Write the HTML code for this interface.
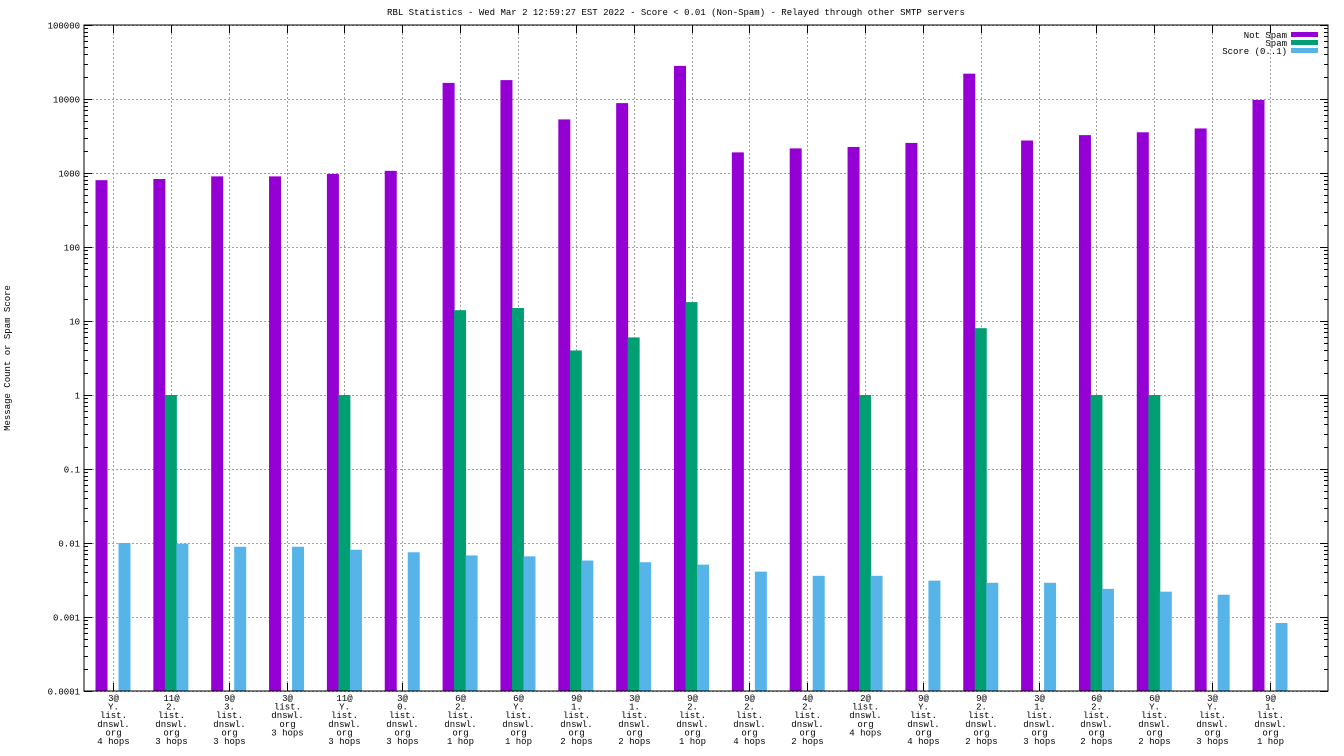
<!DOCTYPE html>
<html><head><meta charset="utf-8"><style>
body{margin:0;background:#fff}
svg{display:block;font-family:"Liberation Mono","DejaVu Sans Mono",monospace;font-size:9px}
</style></head><body>
<svg id="c" width="1344" height="756">
<text x="676" y="15" text-anchor="middle">RBL Statistics - Wed Mar  2 12:59:27 EST 2022 - Score &lt; 0.01 (Non-Spam) - Relayed through other SMTP servers</text>
<text transform="translate(10,358) rotate(-90)" text-anchor="middle">Message Count or Spam Score</text>
<g id="grid"></g><g id="bars"></g><g id="labels"></g>
<rect x="84" y="25" width="1244" height="666" fill="none" stroke="#000" stroke-width="1"/>
<g>
<text x="1287" y="38" text-anchor="end">Not Spam</text>
<rect x="1291" y="32" width="27" height="5" fill="#9400d3"/>
<text x="1287" y="46" text-anchor="end">Spam</text>
<rect x="1291" y="40" width="27" height="5" fill="#009e73"/>
<text x="1287" y="54" text-anchor="end">Score (0..1)</text>
<rect x="1291" y="48" width="27" height="5" fill="#56b4e9"/>
</g>
</svg>
<script>
const categories=[["3@","Y.","list.","dnswl.","org","4 hops"],["11@","2.","list.","dnswl.","org","3 hops"],["9@","3.","list.","dnswl.","org","3 hops"],["3@","list.","dnswl.","org","3 hops"],["11@","Y.","list.","dnswl.","org","3 hops"],["3@","0.","list.","dnswl.","org","3 hops"],["6@","2.","list.","dnswl.","org","1 hop"],["6@","Y.","list.","dnswl.","org","1 hop"],["9@","1.","list.","dnswl.","org","2 hops"],["3@","1.","list.","dnswl.","org","2 hops"],["9@","2.","list.","dnswl.","org","1 hop"],["9@","2.","list.","dnswl.","org","4 hops"],["4@","2.","list.","dnswl.","org","2 hops"],["2@","list.","dnswl.","org","4 hops"],["9@","Y.","list.","dnswl.","org","4 hops"],["9@","2.","list.","dnswl.","org","2 hops"],["3@","1.","list.","dnswl.","org","3 hops"],["6@","2.","list.","dnswl.","org","2 hops"],["6@","Y.","list.","dnswl.","org","2 hops"],["3@","Y.","list.","dnswl.","org","3 hops"],["9@","1.","list.","dnswl.","org","1 hop"]];
const notSpam=[800,830,900,900,970,1070,16500,18000,5300,8800,28000,1900,2150,2250,2550,22000,2750,3250,3550,4000,9700];
const spam=[0,1,0,0,1,0,14,15,4,6,18,0,0,1,0,8,0,1,1,0,0];
const score=[0.01,0.0098,0.0089,0.0089,0.0081,0.0075,0.0068,0.0066,0.0058,0.0055,0.0051,0.0041,0.0036,0.0036,0.0031,0.0029,0.0029,0.0024,0.0022,0.0020,0.00083];
const yTicks=["0.0001","0.001","0.01","0.1","1","10","100","1000","10000","100000"];
const NS="http://www.w3.org/2000/svg";
const pTop=25,pBot=691,pLeft=84,pRight=1328;
function yScale(v){const l=Math.log10(v);return pBot-(l+4)/9*(pBot-pTop);}
function xc(i){return 113+i*57.85;}
function mk(tag,attrs,parent){const e=document.createElementNS(NS,tag);for(const k in attrs)e.setAttribute(k,attrs[k]);parent.appendChild(e);return e;}
const grid=document.getElementById('grid'),bars=document.getElementById('bars'),labels=document.getElementById('labels');
yTicks.forEach(t=>{const yy=Math.round(yScale(parseFloat(t)))+0.5;
 const l=mk('line',{x1:pLeft,x2:pRight,y1:yy,y2:yy,stroke:'#a0a0a0','stroke-dasharray':'2,2'},grid);
 
 
 const tl=mk('text',{x:pLeft-4,y:yy+3,'text-anchor':'end'},labels);tl.textContent=t;
 
 
 mk('line',{x1:pLeft,x2:pLeft+8,y1:yy,y2:yy,stroke:'#000'},grid);mk('line',{x1:pRight-8,x2:pRight,y1:yy,y2:yy,stroke:'#000'},grid);
 for(let d=2;d<10&&t!=="100000";d++){const ym=Math.round(yScale(parseFloat(t)*d))+0.5;
  mk('line',{x1:pLeft,x2:pLeft+4,y1:ym,y2:ym,stroke:'#000'},grid);mk('line',{x1:pRight-4,x2:pRight,y1:ym,y2:ym,stroke:'#000'},grid);}
});
categories.forEach((c,i)=>{const x=Math.round(xc(i))+0.5;
 const g=mk('line',{x1:x,x2:x,y1:pTop,y2:pBot,stroke:'#a0a0a0','stroke-dasharray':'2,2'},grid);
 
 
 mk('line',{x1:x,x2:x,y1:pBot-8,y2:pBot,stroke:'#000'},grid);
 mk('line',{x1:x,x2:x,y1:pTop,y2:pTop+8,stroke:'#000'},grid);
 const t=mk('text',{'text-anchor':'middle'},labels);
 
 
 c.forEach((s,j)=>{const ts=mk('tspan',{x:x,y:701+j*8.6},t);ts.textContent=s;});
 const series=[[notSpam[i],'#9400d3',-11.5,'bar-not-spam'],[spam[i],'#009e73',0,'bar-spam'],[score[i],'#56b4e9',11.5,'bar-score']];
 series.forEach(s=>{if(s[0]<=0)return;const yy=yScale(s[0]);
  const r=mk('rect',{x:xc(i)+s[2]-6,y:yy,width:12,height:pBot-yy,fill:s[1]},bars);
  
  
 });
});
</script>
</body></html>
